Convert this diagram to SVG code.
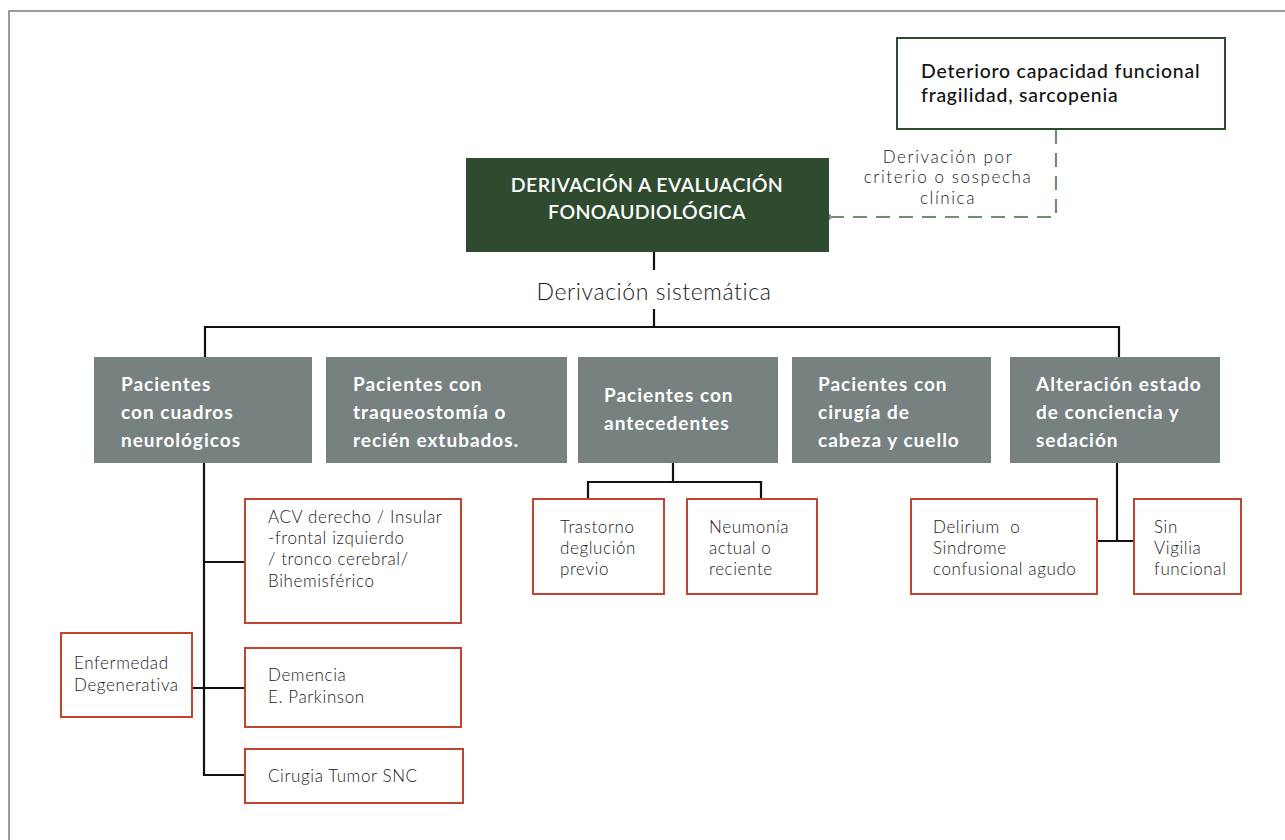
<svg xmlns="http://www.w3.org/2000/svg" width="1285" height="840" viewBox="0 0 1285 840">
<style>
.bg{fill:#ffffff}
.frame{fill:none;stroke:#7a7a7a;stroke-width:1.5}
.main{fill:#2e4b2f}
.mainT{font-family:Lato,"Open Sans",sans-serif;font-weight:600;font-size:19.5px;letter-spacing:0.4px;fill:#ffffff;text-anchor:middle}
.green{fill:#ffffff;stroke:#2e4b2f;stroke-width:2}
.greenT{font-family:Lato,"Open Sans",sans-serif;font-weight:500;font-size:19.4px;letter-spacing:0.8px;fill:#111111}
.cat{fill:#778180}
.catT{font-family:Lato,"Open Sans",sans-serif;font-weight:700;font-size:19px;letter-spacing:1px;fill:#ffffff}
.red{fill:#ffffff;stroke:#c2432f;stroke-width:2}
.redT{font-family:Lato,"Open Sans",sans-serif;font-weight:300;font-size:17px;letter-spacing:0.6px;fill:#1a1a1a}
.lbl{font-family:Lato,"Open Sans",sans-serif;font-weight:300;fill:#1a1a1a;text-anchor:middle}
.line{fill:none;stroke:#111111;stroke-width:2.2}
.dash{fill:none;stroke:#6f8f6f;stroke-width:2.2;stroke-dasharray:14 9}
</style>
<defs>
<marker id="chev" markerWidth="14" markerHeight="24" refX="1" refY="12" orient="auto" markerUnits="userSpaceOnUse">
<path d="M13,1 L2,12 L13,23" fill="none" stroke="#6f8f6f" stroke-width="2.2"/>
</marker>
</defs>
<rect class="bg" x="0" y="0" width="1285" height="840"/>
<path class="frame" d="M9,850 L9,11 L1290,11"/>

<g id="connectors">
<path class="dash" d="M1056,130 L1056,217 L832,217" marker-end="url(#chev)"/>
<path class="line" d="M654,252 L654,270"/>
<path class="line" d="M654,309 L654,327"/>
<path class="line" d="M205,357 L205,327 L1119,327 L1119,357"/>
<path class="line" d="M204,463 L204,775 L245,775"/>
<path class="line" d="M204,562 L245,562"/>
<path class="line" d="M192,688 L245,688"/>
<path class="line" d="M673,463 L673,482"/>
<path class="line" d="M588,499 L588,482 L761,482 L761,499"/>
<path class="line" d="M1117,463 L1117,541"/>
<path class="line" d="M1097,541 L1134,541"/>
</g>

<g id="lbl-dash">
<text class="lbl" font-size="17" letter-spacing="1.6" x="948" y="162.5"><tspan x="948">Derivación por</tspan><tspan x="948" dy="20.7">criterio o sospecha</tspan><tspan x="948" dy="20.7">clínica</tspan></text>
</g>
<g id="lbl-sist">
<text class="lbl" font-size="23" letter-spacing="0.6" x="654" y="300">Derivación sistemática</text>
</g>

<g id="n-main">
<rect class="main" x="466" y="158" width="363" height="94"/>
<text class="mainT" x="647" y="192"><tspan x="647">DERIVACIÓN A EVALUACIÓN</tspan><tspan x="647" dy="27">FONOAUDIOLÓGICA</tspan></text>
</g>

<g id="n-deterioro">
<rect class="green" x="897" y="38" width="328" height="91"/>
<text class="greenT" x="921" y="78"><tspan x="921">Deterioro capacidad funcional</tspan><tspan x="921" dy="23.5">fragilidad, sarcopenia</tspan></text>
</g>

<g id="n-neuro">
<rect class="cat" x="94" y="357" width="218" height="106"/>
<text class="catT" x="121" y="391"><tspan x="121">Pacientes</tspan><tspan x="121" dy="28">con cuadros</tspan><tspan x="121" dy="28">neurológicos</tspan></text>
</g>
<g id="n-traq">
<rect class="cat" x="326" y="357" width="241" height="106"/>
<text class="catT" x="353" y="391"><tspan x="353">Pacientes con</tspan><tspan x="353" dy="28">traqueostomía o</tspan><tspan x="353" dy="28">recién extubados.</tspan></text>
</g>
<g id="n-antec">
<rect class="cat" x="578" y="357" width="200" height="106"/>
<text class="catT" x="604" y="402"><tspan x="604">Pacientes con</tspan><tspan x="604" dy="28">antecedentes</tspan></text>
</g>
<g id="n-cirugia">
<rect class="cat" x="792" y="357" width="199" height="106"/>
<text class="catT" x="818" y="391"><tspan x="818">Pacientes con</tspan><tspan x="818" dy="28">cirugía de</tspan><tspan x="818" dy="28">cabeza y cuello</tspan></text>
</g>
<g id="n-alter">
<rect class="cat" x="1010" y="357" width="210" height="106"/>
<text class="catT" x="1036" y="391"><tspan x="1036">Alteración estado</tspan><tspan x="1036" dy="28">de conciencia y</tspan><tspan x="1036" dy="28">sedación</tspan></text>
</g>

<g id="n-acv">
<rect class="red" x="245" y="499" width="216" height="124"/>
<text class="redT" x="268" y="523"><tspan x="268">ACV derecho / Insular</tspan><tspan x="268" dy="21.2">-frontal izquierdo</tspan><tspan x="268" dy="21.2">/ tronco cerebral/</tspan><tspan x="268" dy="21.2">Bihemisférico</tspan></text>
</g>
<g id="n-demencia">
<rect class="red" x="245" y="648" width="216" height="79"/>
<text class="redT" x="268" y="681"><tspan x="268">Demencia</tspan><tspan x="268" dy="22">E. Parkinson</tspan></text>
</g>
<g id="n-tumor">
<rect class="red" x="245" y="749" width="218" height="54"/>
<text class="redT" x="268" y="782">Cirugia Tumor SNC</text>
</g>
<g id="n-enferm">
<rect class="red" x="61" y="633" width="131" height="84"/>
<text class="redT" x="74" y="669"><tspan x="74">Enfermedad</tspan><tspan x="74" dy="22">Degenerativa</tspan></text>
</g>
<g id="n-trastorno">
<rect class="red" x="533" y="499" width="131" height="95"/>
<text class="redT" x="560" y="533"><tspan x="560">Trastorno</tspan><tspan x="560" dy="21">deglución</tspan><tspan x="560" dy="21">previo</tspan></text>
</g>
<g id="n-neumonia">
<rect class="red" x="687" y="499" width="130" height="95"/>
<text class="redT" x="709" y="533"><tspan x="709">Neumonía</tspan><tspan x="709" dy="21">actual o</tspan><tspan x="709" dy="21">reciente</tspan></text>
</g>
<g id="n-delirium">
<rect class="red" x="911" y="499" width="186" height="95"/>
<text class="redT" x="933" y="533" xml:space="preserve"><tspan x="933">Delirium  o</tspan><tspan x="933" dy="21">Sindrome</tspan><tspan x="933" dy="21">confusional agudo</tspan></text>
</g>
<g id="n-sin">
<rect class="red" x="1134" y="499" width="107" height="95"/>
<text class="redT" x="1154" y="533"><tspan x="1154">Sin</tspan><tspan x="1154" dy="21">Vigilia</tspan><tspan x="1154" dy="21">funcional</tspan></text>
</g>
</svg>
